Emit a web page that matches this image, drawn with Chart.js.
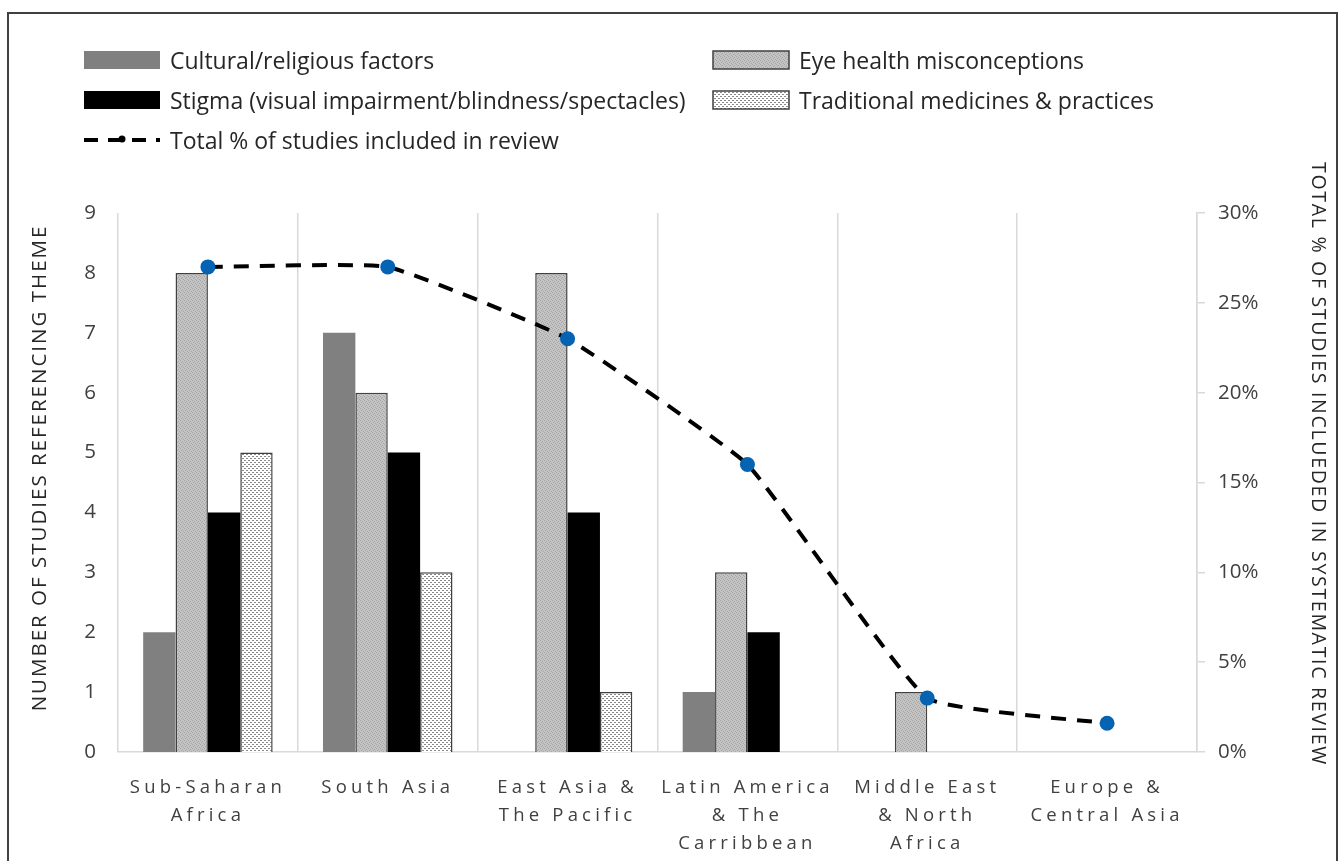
<!DOCTYPE html>
<html>
<head>
<meta charset="utf-8">
<script src="https://cdn.jsdelivr.net/npm/chart.js@4.4.1/dist/chart.umd.min.js"></script>
<style>
    html, body { margin: 0; padding: 0; background: #fff; }
    #wrap { position: relative; width: 1340px; height: 861px; overflow: hidden; }
    #frame { position: absolute; left: 7px; top: 12px; width: 1331px; height: 900px;
             border: 2px solid #404040; box-sizing: border-box; pointer-events: none; }
</style>
</head>
<body>
<div id="wrap">
    <canvas id="grafico"></canvas>
    <div id="frame"></div>
</div>
<script>
// regiones (eje X), en varias lineas como en la figura
const regiones = [
    ["Sub-Saharan", "Africa"],
    ["South Asia"],
    ["East Asia &", "The Pacific"],
    ["Latin America", "& The", "Carribbean"],
    ["Middle East", "& North", "Africa"],
    ["Europe &", "Central Asia"]
];

// numero de estudios por tema
const culturales    = [2, 7, 0, 1, 0, 0];
const ideasErroneas = [8, 6, 8, 3, 1, 0];
const estigma       = [4, 5, 4, 2, 0, 0];
const tradicionales = [5, 3, 1, 0, 0, 0];

// % total de estudios incluidos en la revision
const totalPct = [27, 27, 23, 16, 3, 1.6];

const ticksIzq = [0, 1, 2, 3, 4, 5, 6, 7, 8, 9];
const ticksDer = [0, 5, 10, 15, 20, 25, 30];

const etiquetas = [
    "Cultural/religious factors",
    "Eye health misconceptions",
    "Stigma (visual impairment/blindness/spectacles)",
    "Traditional medicines & practices",
    "Total % of studies included in review"
];

const tituloIzq = "NUMBER OF STUDIES REFERENCING THEME";
const tituloDer = "TOTAL % OF STUDIES INCLUEDED IN SYSTEMATIC REVIEW";

const FUENTE = "'Open Sans', Lato, sans-serif";
const GRIS_EJE = "#d9d9d9";

// tramas de relleno (como las de Excel)
function crearTrama(fondo, puntos, color, w, h) {
    const c = document.createElement("canvas");
    c.width = w; c.height = h;
    const g = c.getContext("2d");
    g.fillStyle = fondo;
    g.fillRect(0, 0, w, h);
    g.fillStyle = color;
    puntos.forEach(p => g.fillRect(p[0], p[1], 1, 1));
    return g.createPattern(c, "repeat");
}
const tramaOjo = crearTrama("#c4c4c4", [[0, 0], [2, 1], [1, 2], [3, 3]], "#a4a4a4", 4, 4);
const tramaTrad = crearTrama("#ffffff", [[0, 0], [1, 0], [2, 2], [3, 2]], "#8a8a8a", 4, 4);

const estilosBarra = [
    { fill: "#808080", border: "#808080", bw: 0 },
    { fill: tramaOjo, border: "#404040", bw: 1.5 },
    { fill: "#000000", border: "#000000", bw: 0 },
    { fill: tramaTrad, border: "#404040", bw: 1.5 }
];
const series = [culturales, ideasErroneas, estigma, tradicionales];

const datasets = series.map((s, i) => ({
    type: "bar",
    label: etiquetas[i],
    data: s,
    backgroundColor: estilosBarra[i].fill,
    borderColor: estilosBarra[i].border,
    borderWidth: ctx => (ctx.raw ? estilosBarra[i].bw : 0),
    categoryPercentage: 0.72,
    barPercentage: 1.0,
    yAxisID: "y",
    order: 2
}));

datasets.push({
    type: "line",
    label: etiquetas[4],
    data: totalPct,
    yAxisID: "y2",
    borderColor: "#000000",
    borderWidth: 4,
    borderDash: [15, 11],
    tension: 0.12,
    pointRadius: 7.5,
    pointBackgroundColor: "#0563b4",
    pointBorderWidth: 0,
    fill: false,
    order: 0
});

// leyenda dibujada a mano (dos columnas + fila de la linea) y titulos de ejes
const leyendaPlugin = {
    id: "leyenda",
    afterDraw(chart) {
        const ctx = chart.ctx;
        const colX = [84, 713];
        const filaY = [60, 100, 140];
        ctx.save();
        ctx.font = "23px " + FUENTE;
        ctx.textBaseline = "middle";
        for (let i = 0; i < 4; i++) {
            const x = colX[i % 2];
            const y = filaY[Math.floor(i / 2)];
            const e = estilosBarra[i];
            ctx.fillStyle = e.fill;
            ctx.fillRect(x, y - 9, 76, 18);
            if (e.bw) {
                ctx.strokeStyle = e.border;
                ctx.lineWidth = 1.5;
                ctx.strokeRect(x, y - 9, 76, 18);
            }
            ctx.fillStyle = "#262626";
            ctx.fillText(etiquetas[i], x + 86, y + 2);
        }
        // linea discontinua con punto
        const y = filaY[2];
        ctx.strokeStyle = "#000";
        ctx.lineWidth = 4;
        ctx.setLineDash([14, 10]);
        ctx.beginPath();
        ctx.moveTo(84, y);
        ctx.lineTo(160, y);
        ctx.stroke();
        ctx.setLineDash([]);
        ctx.fillStyle = "#000";
        ctx.beginPath();
        ctx.arc(122, y - 1, 3.5, 0, Math.PI * 2);
        ctx.fill();
        ctx.fillStyle = "#262626";
        ctx.fillText(etiquetas[4], 170, y + 2);

        // titulos de los ejes, girados
        ctx.fillStyle = "#262626";
        ctx.textAlign = "center";
        ctx.save();
        ctx.translate(40, 468);
        ctx.rotate(-Math.PI / 2);
        ctx.font = "20.5px " + FUENTE;
        ctx.letterSpacing = "2px";
        ctx.fillText(tituloIzq, 0, 0);
        ctx.restore();
        ctx.save();
        ctx.translate(1318, 464);
        ctx.rotate(Math.PI / 2);
        ctx.font = "19.5px " + FUENTE;
        ctx.letterSpacing = "1.7px";
        ctx.fillText(tituloDer, 0, 0);
        ctx.restore();
        ctx.restore();
    }
};

// espaciado entre letras en las etiquetas del eje X
const espaciadoPlugin = {
    id: "espaciado",
    afterLayout(chart) {
        const sc = chart.scales.x;
        if (sc && !sc._espaciado) {
            const orig = sc.drawLabels.bind(sc);
            sc.drawLabels = area => {
                sc.ctx.save();
                sc.ctx.letterSpacing = "4.2px";
                orig(area);
                sc.ctx.restore();
            };
            sc._espaciado = true;
        }
    }
};

new Chart(document.getElementById("grafico"), {
    data: { labels: regiones, datasets: datasets },
    options: {
        responsive: true,
        maintainAspectRatio: false,
        animation: false,
        layout: { padding: { top: 213, left: 0, right: 0, bottom: 0 } },
        plugins: {
            legend: { display: false },
            tooltip: { enabled: false }
        },
        scales: {
            x: {
                afterFit: s => { s.height = 109; },
                grid: { color: GRIS_EJE, lineWidth: 1.5, drawTicks: false, offset: true },
                border: { display: true, color: GRIS_EJE, width: 1.5 },
                ticks: {
                    padding: 22,
                    maxRotation: 0,
                    autoSkip: false,
                    color: "#404040",
                    font: { family: FUENTE, size: 18.5, lineHeight: 1.5 }
                }
            },
            y: {
                position: "left",
                min: 0,
                max: 9,
                afterFit: s => { s.width = 118; },
                afterBuildTicks: s => { s.ticks = ticksIzq.map(v => ({ value: v })); },
                grid: { display: false, drawTicks: false },
                border: { display: false },
                ticks: { padding: 22, color: "#404040", font: { family: FUENTE, size: 20.5 } }
            },
            y2: {
                position: "right",
                min: 0,
                max: 30,
                afterFit: s => { s.width = 143; },
                afterBuildTicks: s => { s.ticks = ticksDer.map(v => ({ value: v })); },
                grid: { drawOnChartArea: false, color: GRIS_EJE, lineWidth: 1.5, tickLength: 8 },
                border: { display: true, color: GRIS_EJE, width: 1.5 },
                ticks: {
                    padding: 13,
                    color: "#404040",
                    font: { family: FUENTE, size: 20.5 },
                    callback: v => v + "%"
                }
            }
        }
    },
    plugins: [leyendaPlugin, espaciadoPlugin]
});
</script>
</body>
</html>
